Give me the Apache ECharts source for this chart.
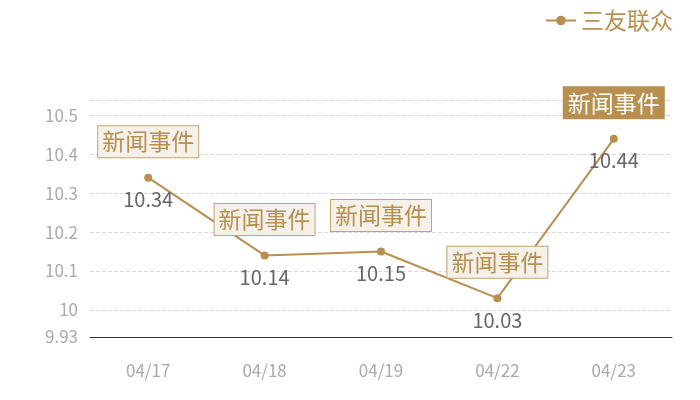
<!DOCTYPE html>
<html lang="zh">
<head>
    <meta charset="UTF-8">
    <title>三友联众</title>
    <script src="https://cdn.jsdelivr.net/npm/echarts@6/dist/echarts.min.js"></script>
    <style>
        html, body { margin: 0; padding: 0; background: #fff; }
        #main { width: 700px; height: 400px; }
    </style>
</head>
<body>
<div id="main"></div>
<script>
    var dates = ['04/17', '04/18', '04/19', '04/22', '04/23'];
    var prices = [10.34, 10.14, 10.15, 10.03, 10.44];
    var eventText = '新闻事件';
    var eventIdx = [0, 1, 2, 3, 4];
    var highlightIdx = 4;

    var gold = '#b88f4f';
    var font = '"Noto Sans CJK SC", "Noto Sans", sans-serif';

    var yMin = 9.93, yMax = 10.54;

    // 新闻事件 标注
    var marks = eventIdx.map(function (i) {
        var item = {coord: [i, prices[i]], value: prices[i]};
        if (i === highlightIdx) {
            item.label = {
                color: '#fff',
                backgroundColor: gold,
                borderColor: gold
            };
        }
        return item;
    });

    var chart = echarts.init(document.getElementById('main'));
    var option = {
        textStyle: {fontFamily: font},
        legend: {
            right: 22,
            top: 4,
            itemWidth: 30,
            itemHeight: 12,
            itemGap: 6,
            textStyle: {color: gold, fontSize: 23, fontFamily: font},
            data: ['三友联众']
        },
        grid: {left: 90, right: 28, top: 100, bottom: 63},
        xAxis: {
            type: 'category',
            data: dates,
            axisLine: {lineStyle: {color: '#333'}},
            axisTick: {show: false},
            axisLabel: {color: '#aaa', fontSize: 17, margin: 25}
        },
        yAxis: {
            type: 'value',
            min: yMin,
            max: yMax,
            axisLine: {show: false},
            axisTick: {show: false},
            axisLabel: {color: '#aaa', fontSize: 17, margin: 12, showMaxLabel: false},
            splitLine: {lineStyle: {color: '#d8d8d8', type: 'dashed'}}
        },
        series: [{
            name: '三友联众',
            type: 'line',
            data: prices,
            symbol: 'circle',
            symbolSize: 8,
            itemStyle: {color: gold},
            lineStyle: {color: gold, width: 2},
            label: {
                show: true,
                position: 'bottom',
                distance: 8,
                color: '#666',
                fontSize: 20
            },
            markPoint: {
                symbol: 'circle',
                symbolSize: 0,
                label: {
                    show: true,
                    position: 'inside',
                    offset: [0, -36],
                    formatter: eventText,
                    color: gold,
                    fontSize: 23,
                    fontFamily: font,
                    backgroundColor: '#f4f0ea',
                    borderColor: '#c9a36a',
                    borderWidth: 1,
                    padding: [5, 4, 3, 4]
                },
                data: marks
            }
        }]
    };
    chart.setOption(option);
</script>
</body>
</html>
